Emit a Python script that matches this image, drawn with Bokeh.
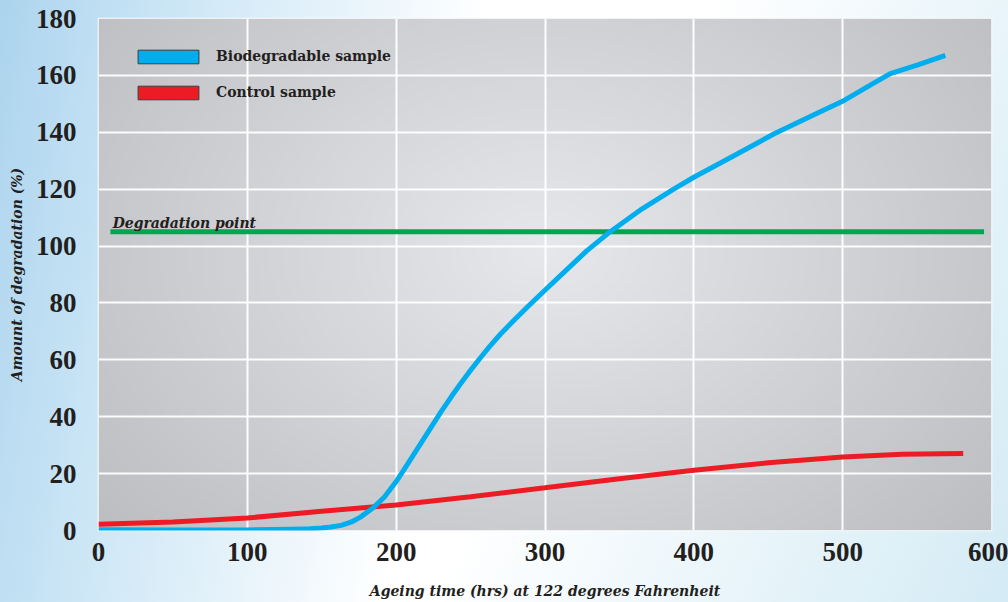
import numpy as np
from bokeh.plotting import figure
from bokeh.models import Legend, LegendItem, Label, FixedTicker
from bokeh.embed import file_html
from bokeh.resources import INLINE

# ---- data ----
blue_x = [0, 50, 100, 130, 142, 150, 156, 163, 170, 176, 185, 192, 200, 207, 214, 223, 230,
          237, 243, 250, 257, 263, 270, 279, 288, 295, 301, 315, 328, 342, 365, 387, 400,
          430, 454, 480, 501, 520, 532, 550, 569]
blue_y = [0.3, 0.2, 0.2, 0.4, 0.6, 0.9, 1.2, 1.8, 3.0, 4.7, 8.2, 11.7, 17.2, 22.8, 28.5, 35.9, 41.6,
          47.0, 51.4, 56.3, 61.0, 64.8, 69.0, 73.8, 78.5, 82.0, 85.0, 91.9, 98.3, 104.3, 113.0, 120.2, 124.2,
          132.6, 139.5, 146.0, 151.2, 157.0, 160.6, 163.6, 167.0]
red_x = [0, 50, 100, 150, 200, 250, 300, 350, 400, 450, 500, 540, 581]
red_y = [2.2, 3.0, 4.4, 6.8, 9.0, 11.9, 15.0, 18.2, 21.2, 23.8, 25.8, 26.8, 27.1]
deg_x = [8, 595]
deg_y = [105, 105]
x_ticks = [0, 100, 200, 300, 400, 500, 600]
y_ticks = [0, 20, 40, 60, 80, 100, 120, 140, 160, 180]
series_names = ["Biodegradable sample", "Control sample"]
deg_label = "Degradation point"
x_title = "Ageing time (hrs) at 122 degrees Fahrenheit"
y_title = "Amount of degradation (%)"

BLUE = "#00aeef"
RED = "#ed1c24"
GREEN = "#00a650"
TXT = "#231f20"

p = figure(width=1008, height=602, x_range=(0, 600), y_range=(0, 180),
           output_backend="svg", toolbar_location=None,
           min_border_left=98, min_border_right=17, min_border_top=18, min_border_bottom=72)

p.border_fill_color = None
p.styles = {"background-image":
            "linear-gradient(100deg, rgba(172,212,238,1) 0%, rgba(200,228,245,0.92) 16%, "
            "rgba(255,255,255,0) 44%), linear-gradient(115deg, #ffffff 55%, #d4ebf5 100%)"}

# radial gray gradient for the plot area (decoration)
H, W = 128, 224
u = np.linspace(0, 1, W)[None, :]
v = np.linspace(0, 1, H)[:, None]
d = np.sqrt(((u - 0.50) / 0.62) ** 2 + ((v - 0.55) / 0.80) ** 2)
c = np.clip(231 - 40 * d, 186, 231)
img = np.zeros((H, W), dtype=np.uint32)
view = img.view(dtype=np.uint8).reshape((H, W, 4))
view[:, :, 0] = c.astype(np.uint8)
view[:, :, 1] = (c + 1).clip(0, 255).astype(np.uint8)
view[:, :, 2] = (c + 4).clip(0, 255).astype(np.uint8)
view[:, :, 3] = 255
p.image_rgba(image=[img], x=0, y=0, dw=600, dh=180, level="image")

p.outline_line_color = "white"
p.outline_line_width = 1.5

p.xgrid.ticker = FixedTicker(ticks=x_ticks)
p.ygrid.ticker = FixedTicker(ticks=y_ticks)
for g in (p.xgrid, p.ygrid):
    g.grid_line_color = "white"
    g.grid_line_width = 2
    g.grid_line_alpha = 0.95

p.xaxis.ticker = FixedTicker(ticks=x_ticks)
p.yaxis.ticker = FixedTicker(ticks=y_ticks)
for ax in (p.xaxis, p.yaxis):
    ax.axis_line_color = None
    ax.major_tick_line_color = None
    ax.minor_tick_line_color = None
    ax.major_label_text_font = "Liberation Serif"
    ax.major_label_text_font_style = "bold"
    ax.major_label_text_font_size = "27px"
    ax.major_label_text_color = TXT
    ax.axis_label_text_font = "DejaVu Serif"
    ax.axis_label_text_font_style = "bold italic"
    ax.axis_label_text_font_size = "14px"
    ax.axis_label_text_color = TXT
p.xaxis.major_label_standoff = 6
p.yaxis.major_label_standoff = 16
p.xaxis.axis_label = x_title
p.yaxis.axis_label = y_title
p.xaxis.axis_label_standoff = 19
p.yaxis.axis_label_standoff = 8

p.line(deg_x, deg_y, line_color=GREEN, line_width=5)
p.line(red_x, red_y, line_color=RED, line_width=5)
p.line(blue_x, blue_y, line_color=BLUE, line_width=5, line_join="round")

p.add_layout(Label(x=9.5, y=108, text=deg_label, text_font="DejaVu Serif",
                   text_font_style="bold italic", text_font_size="14px",
                   text_color=TXT, text_baseline="alphabetic"))

nan = [np.nan]
qb = p.quad(left=nan, right=nan, top=nan, bottom=nan, fill_color=BLUE, line_color="#3c3c3c", line_width=1)
qr = p.quad(left=nan, right=nan, top=nan, bottom=nan, fill_color=RED, line_color="#3c3c3c", line_width=1)
legend = Legend(items=[LegendItem(label=series_names[0], renderers=[qb]),
                       LegendItem(label=series_names[1], renderers=[qr])],
                location=(32, 428), padding=0, margin=0, spacing=16,
                glyph_width=76, glyph_height=17, label_height=20, label_standoff=10,
                label_text_font="DejaVu Serif", label_text_font_style="bold",
                label_text_font_size="14px", label_text_color=TXT,
                background_fill_alpha=0, border_line_color=None)
p.add_layout(legend)

open("out.html", "w").write(file_html(p, INLINE))
